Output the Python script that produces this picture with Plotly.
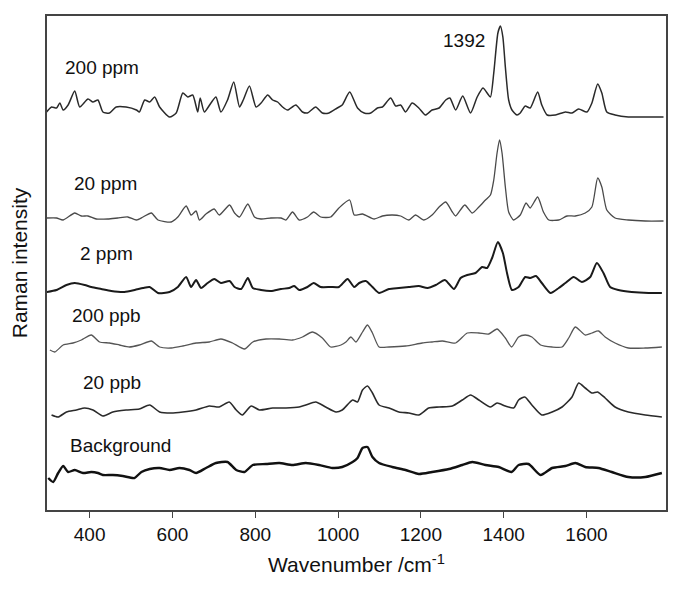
import plotly.graph_objects as go

# ---- data (stacked intensity, arbitrary units) ----
wn_200ppm = [296, 308, 320, 328, 336, 348, 364, 376, 396, 408, 420, 432, 448, 464, 488, 513, 520, 533, 545, 557,
             569, 593, 609, 625, 637, 649, 661, 667, 677, 693, 705, 717, 733, 748, 762, 771, 786, 802, 814, 830,
             842, 854, 866, 878, 898, 914, 926, 946, 962, 978, 998, 1010, 1028, 1047, 1063, 1079, 1095, 1107, 1127,
             1139, 1151, 1163, 1179, 1195, 1211, 1227, 1244, 1260, 1270, 1284, 1301, 1320, 1336, 1350, 1360, 1368,
             1376, 1386, 1392, 1398, 1404, 1412, 1420, 1432, 1440, 1452, 1464, 1482, 1492, 1505, 1525, 1549, 1565,
             1581, 1601, 1613, 1627, 1637, 1649, 1669, 1701, 1742, 1786]
int_200ppm = [398, 403, 402, 407, 400, 405, 419, 403, 411, 408, 410, 398, 397, 403, 403, 400, 398, 410, 408, 413,
              403, 393, 397, 417, 413, 415, 398, 412, 398, 407, 413, 398, 410, 428, 403, 410, 424, 403, 407, 415,
              410, 408, 403, 400, 405, 398, 397, 403, 397, 397, 402, 405, 418, 402, 397, 397, 402, 403, 412,
              404, 405, 398, 407, 402, 395, 400, 402, 410, 412, 400, 414, 397, 413, 422, 417, 413,
              437, 477, 484, 473, 443, 410, 400, 395, 397, 404, 402, 418, 405, 395, 395, 398, 397,
              401, 398, 407, 426, 417, 398, 395, 393, 393, 393]

wn_20ppm = [296, 320, 336, 364, 380, 396, 416, 444, 468, 492, 513, 529, 549, 565, 597, 613, 633, 645, 657, 665,
            681, 701, 713, 738, 750, 762, 782, 798, 814, 838, 862, 874, 890, 906, 926, 941, 958, 982, 1002, 1028,
            1039, 1059, 1087, 1107, 1131, 1151, 1171, 1187, 1207, 1227, 1244, 1260, 1276, 1284, 1306, 1324, 1340,
            1356, 1368, 1376, 1384, 1390, 1396, 1404, 1412, 1424, 1440, 1454, 1464, 1482, 1496, 1509, 1533, 1553,
            1573, 1597, 1613, 1627, 1637, 1649, 1669, 1701, 1742, 1786]
int_20ppm = [292, 292, 290, 297, 294, 294, 291, 291, 292, 293, 290, 293, 297, 290, 288, 293, 304, 295, 299, 290,
             296, 301, 295, 305, 297, 293, 306, 293, 291, 292, 292, 290, 298, 290, 293, 298, 293, 293, 302, 310,
             295, 296, 291, 294, 295, 294, 290, 295, 290, 295, 303, 308, 298, 294, 305, 297, 303,
             310, 315, 330, 357, 370, 357, 323, 298, 290, 295, 307, 302, 313, 298, 290, 290, 294,
             294, 297, 303, 332, 323, 300, 292, 290, 289, 289]

wn_2ppm = [296, 320, 344, 364, 388, 404, 428, 452, 484, 509, 529, 545, 565, 593, 613, 633, 645, 657, 669, 685,
           701, 717, 738, 750, 766, 782, 794, 814, 838, 862, 882, 894, 906, 926, 941, 958, 982, 1002, 1023, 1039,
           1051, 1067, 1083, 1099, 1123, 1147, 1171, 1195, 1216, 1236, 1258, 1280, 1296, 1312, 1332, 1348, 1360,
           1372, 1386, 1398, 1408, 1420, 1436, 1452, 1464, 1478, 1492, 1513, 1533, 1549, 1569, 1589, 1609, 1625,
           1641, 1657, 1677, 1709, 1750, 1782]
int_2ppm = [218, 220, 225, 227, 225, 223, 221, 219, 218, 220, 222, 223, 217, 218, 223, 233, 223, 230, 222, 227,
            231, 227, 229, 223, 221, 232, 222, 220, 219, 221, 222, 224, 220, 223, 227, 223, 223, 223, 231, 223,
            227, 229, 223, 217, 221, 222, 223, 224, 222, 225, 230, 221, 232, 235, 237, 243, 242,
            252, 268, 257, 237, 220, 223, 233, 232, 234, 227, 217, 222, 227, 233, 228, 233, 247,
            237, 223, 220, 218, 217, 217]

wn_200ppb = [304, 316, 336, 360, 380, 404, 424, 448, 472, 496, 520, 549, 569, 597, 625, 657, 689, 717, 745, 774,
             794, 826, 858, 890, 914, 938, 962, 982, 1007, 1019, 1031, 1043, 1059, 1071, 1083, 1099, 1123, 1163,
             1203, 1227, 1252, 1284, 1312, 1340, 1364, 1384, 1404, 1419, 1436, 1452, 1468, 1489, 1517, 1541, 1557,
             1573, 1597, 1613, 1629, 1645, 1669, 1701, 1742, 1782]
int_200ppb = [160, 158, 165, 167, 170, 175, 168, 167, 165, 163, 165, 169, 163, 162, 164, 167, 168, 171, 167, 161,
              168, 171, 171, 170, 173, 178, 172, 163, 165, 168, 173, 168, 178, 185, 177, 163, 163, 164,
              167, 168, 169, 167, 177, 177, 176, 181, 172, 163, 173, 175, 173, 165, 163, 163, 172,
              183, 175, 177, 179, 173, 167, 162, 162, 163]

wn_20ppb = [308, 324, 344, 368, 388, 408, 432, 456, 488, 520, 545, 569, 597, 625, 657, 689, 713, 737, 754, 769,
            790, 810, 842, 874, 906, 922, 946, 970, 995, 1010, 1035, 1047, 1059, 1071, 1083, 1099, 1123, 1147,
            1171, 1195, 1219, 1244, 1276, 1300, 1320, 1340, 1368, 1384, 1404, 1424, 1436, 1451, 1468, 1492, 1517,
            1541, 1565, 1581, 1597, 1613, 1627, 1645, 1669, 1701, 1742, 1782]
int_20ppb = [95, 93, 98, 100, 102, 100, 94, 98, 100, 101, 105, 98, 97, 98, 100, 104, 103, 108, 100, 95,
             104, 100, 102, 102, 103, 105, 108, 103, 98, 100, 110, 108, 120, 124, 117, 105, 102, 98,
             97, 95, 102, 103, 104, 110, 115, 110, 103, 107, 104, 102, 110, 113, 105, 95, 98,
             103, 113, 127, 122, 117, 118, 112, 103, 98, 95, 93]

wn_bg = [300, 312, 324, 336, 348, 364, 384, 404, 420, 432, 456, 480, 508, 525, 545, 569, 593, 617, 641, 657,
         681, 705, 733, 754, 774, 794, 826, 858, 890, 922, 954, 986, 1010, 1035, 1047, 1059, 1071, 1083, 1099,
         1131, 1163, 1195, 1227, 1268, 1300, 1324, 1356, 1388, 1419, 1436, 1460, 1489, 1517, 1549, 1573, 1597,
         1629, 1661, 1701, 1742, 1782]
int_bg = [32, 28, 37, 44, 38, 40, 37, 38, 37, 35, 35, 34, 32, 38, 41, 42, 40, 42, 40, 37,
          42, 47, 48, 40, 38, 45, 46, 47, 45, 47, 45, 42, 43, 48, 52, 62, 63, 53, 47,
          43, 40, 36, 38, 41, 45, 48, 45, 43, 38, 45, 46, 35, 42, 44, 47, 43,
          42, 38, 33, 33, 37]

labels = ["200 ppm", "20 ppm", "2 ppm", "200 ppb", "20 ppb", "Background"]
x_ticks = [400, 600, 800, 1000, 1200, 1400, 1600]

series = [(wn_200ppm, int_200ppm), (wn_20ppm, int_20ppm), (wn_2ppm, int_2ppm),
          (wn_200ppb, int_200ppb), (wn_20ppb, int_20ppb), (wn_bg, int_bg)]
colors = ["#2a2a2a", "#4a4a4a", "#1a1a1a", "#555555", "#2a2a2a", "#111111"]
widths = [1.5, 1.3, 2.0, 1.3, 1.6, 2.4]

FONT = "Liberation Sans, Arial, Helvetica, sans-serif"

fig = go.Figure()
for (xs, ys), name, c, w in zip(series, labels, colors, widths):
    fig.add_trace(go.Scatter(x=xs, y=ys, mode="lines", name=name,
                             line=dict(color=c, width=w, shape="spline", smoothing=0.6),
                             showlegend=False, hoverinfo="skip"))

# text labels next to each spectrum
label_pos = [(335, 443), (357, 327), (373, 257), (352, 195), (378, 128), (347, 65)]
for name, (lx, ly) in zip(labels, label_pos):
    fig.add_annotation(x=lx, y=ly, text=name, xref="x", yref="y", showarrow=False,
                       xanchor="left", yanchor="middle",
                       font=dict(family=FONT, size=19, color="#111"))
fig.add_annotation(x=1304, y=470, text="1392", xref="x", yref="y", showarrow=False,
                   xanchor="center", yanchor="middle",
                   font=dict(family=FONT, size=19, color="#111"))

# the page body adds an 8px offset; the figure is sized so the plot frame lands where the reference's does
fig.update_layout(
    width=672, height=581,
    margin=dict(l=39, r=14, t=8, b=79),
    paper_bgcolor="white", plot_bgcolor="white",
    font=dict(family=FONT, color="#111"),
)
fig.update_xaxes(range=[297, 1792], tickvals=x_ticks, ticks="outside", ticklen=6,
                 tickcolor="#444", tickwidth=1.2, automargin=False,
                 showgrid=False, zeroline=False, showline=True, linecolor="#444",
                 linewidth=2, mirror=True,
                 tickfont=dict(family=FONT, size=19, color="#111"),
                 title=dict(text="Wavenumber /cm<sup>-1</sup>", standoff=14,
                            font=dict(family=FONT, size=21, color="#111")))
fig.update_yaxes(range=[0, 494], showticklabels=False, ticks="", automargin=False,
                 showgrid=False, zeroline=False, showline=True, linecolor="#444",
                 linewidth=2, mirror=True,
                 title=dict(text="Raman intensity", standoff=14,
                            font=dict(family=FONT, size=21, color="#111")))

fig.write_html("out.html")
